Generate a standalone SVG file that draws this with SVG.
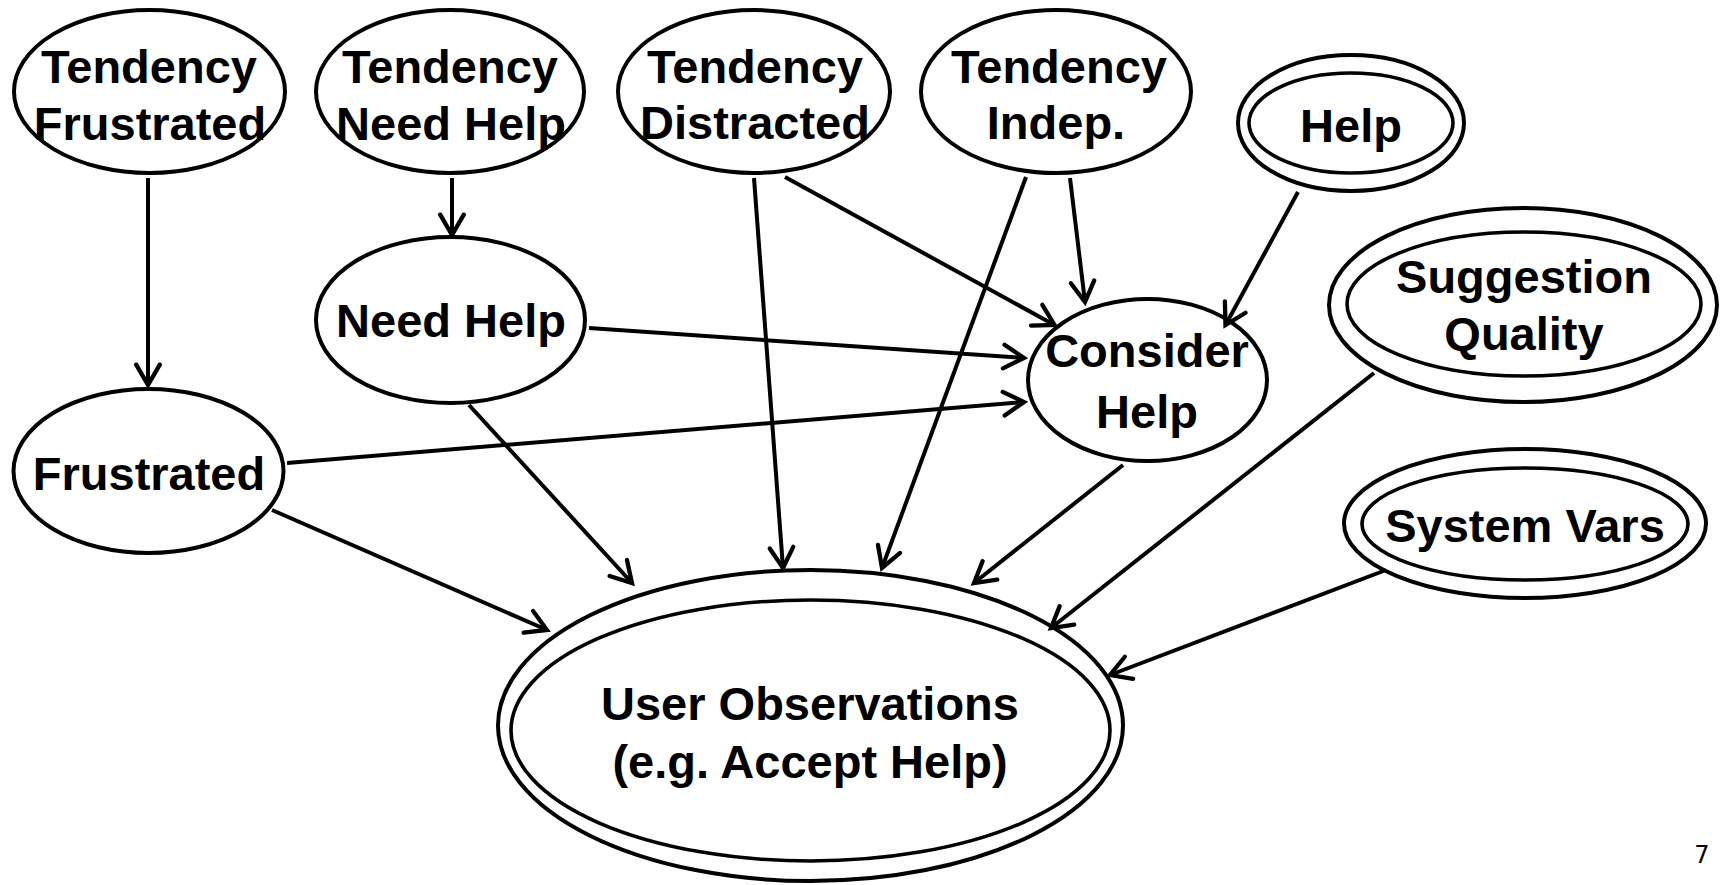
<svg xmlns="http://www.w3.org/2000/svg" width="1731" height="885" viewBox="0 0 1731 885">
<style>
.n{fill:#fff;stroke:#000;stroke-width:4}
.d{fill:none;stroke:#000;stroke-width:3.6}
.t{font-family:"Liberation Sans",Arial,sans-serif;font-weight:bold;font-size:47px;text-anchor:middle;fill:#000}
.e{fill:none;stroke:#000;stroke-width:4;marker-end:url(#ah)}
</style>
<defs>
<marker id="ah" markerUnits="userSpaceOnUse" markerWidth="30" markerHeight="30" viewBox="-24 -14 28 28" refX="0" refY="0" orient="auto">
<path d="M-19,-11 L0,0 L-19,11" fill="none" stroke="#000" stroke-width="4" stroke-linecap="round" stroke-linejoin="miter"/>
</marker>
</defs>
<rect width="1731" height="885" fill="#fff"/>
<g id="tendency-frustrated">
<ellipse class="n" cx="149.5" cy="91.5" rx="135.5" ry="81.5"/>
<text class="t" x="149" y="83">Tendency</text>
<text class="t" x="150" y="140">Frustrated</text>
</g>
<g id="tendency-need-help">
<ellipse class="n" cx="450" cy="91.5" rx="134" ry="81.5"/>
<text class="t" x="450" y="83">Tendency</text>
<text class="t" x="451" y="140">Need Help</text>
</g>
<g id="tendency-distracted">
<ellipse class="n" cx="754" cy="91.5" rx="136" ry="81.5"/>
<text class="t" x="755" y="83">Tendency</text>
<text class="t" x="755" y="139">Distracted</text>
</g>
<g id="tendency-indep">
<ellipse class="n" cx="1056" cy="91.5" rx="135" ry="81.5"/>
<text class="t" x="1059" y="83">Tendency</text>
<text class="t" x="1056" y="139">Indep.</text>
</g>
<g id="help">
<ellipse class="n" cx="1351" cy="123" rx="113" ry="68"/>
<ellipse class="d" cx="1351" cy="123" rx="102" ry="50"/>
<text class="t" x="1351" y="142">Help</text>
</g>
<g id="need-help">
<ellipse class="n" cx="450.5" cy="320" rx="134.5" ry="83"/>
<text class="t" x="451" y="337">Need Help</text>
</g>
<g id="consider-help">
<ellipse class="n" cx="1147.5" cy="380" rx="119.5" ry="81"/>
<text class="t" x="1147" y="367">Consider</text>
<text class="t" x="1147" y="428">Help</text>
</g>
<g id="suggestion-quality">
<ellipse class="n" cx="1523" cy="305" rx="194" ry="97"/>
<ellipse class="d" cx="1524" cy="304" rx="177" ry="72"/>
<text class="t" x="1524" y="293">Suggestion</text>
<text class="t" x="1524" y="350">Quality</text>
</g>
<g id="frustrated">
<ellipse class="n" cx="148.5" cy="471" rx="135" ry="82"/>
<text class="t" x="149" y="490">Frustrated</text>
</g>
<g id="system-vars">
<ellipse class="n" cx="1525" cy="523.5" rx="181" ry="74.5"/>
<ellipse class="d" cx="1525" cy="524" rx="163" ry="56"/>
<text class="t" x="1525" y="542">System Vars</text>
</g>
<g id="user-observations">
<ellipse class="n" cx="810.5" cy="725.5" rx="312.5" ry="155.5"/>
<ellipse class="d" cx="810.5" cy="730.5" rx="299.5" ry="130.5"/>
<text class="t" x="810" y="720">User Observations</text>
<text class="t" x="810" y="778">(e.g. Accept Help)</text>
</g>
<g id="connectors">
<line class="e" x1="148" y1="178" x2="148" y2="385"/>
<line class="e" x1="452" y1="178" x2="452" y2="235"/>
<line class="e" x1="754" y1="178" x2="783" y2="568"/>
<line class="e" x1="785" y1="177" x2="1054.5" y2="325"/>
<line class="e" x1="1026" y1="177" x2="882" y2="568"/>
<line class="e" x1="1070" y1="178" x2="1085" y2="302"/>
<line class="e" x1="1298" y1="192" x2="1225.5" y2="325"/>
<line class="e" x1="589" y1="328" x2="1024" y2="358"/>
<line class="e" x1="469" y1="405" x2="632" y2="583"/>
<line class="e" x1="287" y1="463" x2="1024" y2="402"/>
<line class="e" x1="272" y1="510" x2="547" y2="630"/>
<line class="e" x1="1123" y1="465" x2="974" y2="583"/>
<line class="e" x1="1374" y1="373" x2="1051" y2="628"/>
<line class="e" x1="1386" y1="570" x2="1110" y2="675"/>
</g>
<text x="1702" y="863" font-family="'DejaVu Sans','Liberation Sans',sans-serif" font-size="24" text-anchor="middle" fill="#000">7</text>
</svg>
